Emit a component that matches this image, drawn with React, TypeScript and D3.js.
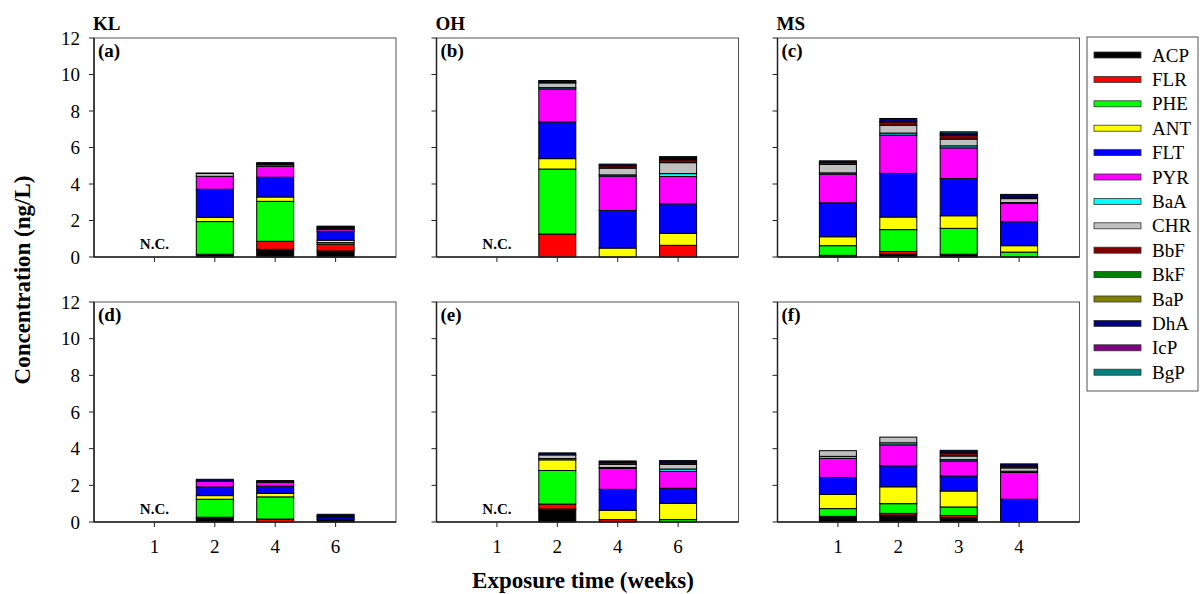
import React from 'react';
import * as d3 from 'd3';

const species = ['ACP', 'FLR', 'PHE', 'ANT', 'FLT', 'PYR', 'BaA', 'CHR', 'BbF', 'BkF', 'BaP', 'DhA', 'IcP', 'BgP'];
const speciesColors = ['#000000', '#ff0000', '#00ff00', '#ffff00', '#0000ff', '#ff00ff', '#00ffff', '#c0c0c0', '#800000', '#008000', '#808000', '#000080', '#800080', '#008080'];

const weeksKO = ['1', '2', '4', '6'];
const weeksMS = ['1', '2', '3', '4'];
const yTicks = [0, 2, 4, 6, 8, 10, 12];

// values per bar in species order: ACP, FLR, PHE, ANT, FLT, PYR, BaA, CHR, BbF, BkF, BaP, DhA, IcP, BgP
const panelA = [
  [0, 0, 0, 0, 0, 0, 0, 0, 0, 0, 0, 0, 0, 0],
  [0.15, 0, 1.79, 0.24, 1.53, 0.71, 0, 0.16, 0, 0, 0, 0.02, 0, 0],
  [0.42, 0.44, 2.19, 0.24, 1.08, 0.6, 0, 0.08, 0.06, 0, 0, 0.06, 0, 0],
  [0.33, 0.37, 0.09, 0.13, 0.47, 0.11, 0, 0.04, 0.05, 0, 0, 0.08, 0, 0.02],
];
const panelB = [
  [0, 0, 0, 0, 0, 0, 0, 0, 0, 0, 0, 0, 0, 0],
  [0, 1.26, 3.56, 0.57, 2.01, 1.81, 0.07, 0.26, 0.05, 0, 0, 0.08, 0, 0],
  [0, 0, 0, 0.49, 2.06, 1.88, 0.07, 0.37, 0.13, 0, 0, 0.09, 0, 0],
  [0, 0.64, 0, 0.66, 1.61, 1.5, 0.16, 0.6, 0.16, 0.06, 0, 0.05, 0, 0.06],
];
const panelC = [
  [0.09, 0, 0.53, 0.49, 1.86, 1.57, 0.07, 0.46, 0.11, 0, 0, 0.09, 0, 0],
  [0.15, 0.15, 1.2, 0.69, 2.39, 2.1, 0.11, 0.42, 0.2, 0, 0, 0.18, 0, 0],
  [0.15, 0, 1.42, 0.69, 2.04, 1.68, 0.11, 0.37, 0.22, 0, 0, 0.1, 0, 0.08],
  [0, 0, 0.27, 0.35, 1.31, 1.0, 0.05, 0.22, 0.07, 0, 0, 0.16, 0, 0],
];
const panelD = [
  [0, 0, 0, 0, 0, 0, 0, 0, 0, 0, 0, 0, 0, 0],
  [0.2, 0.06, 0.98, 0.2, 0.47, 0.31, 0, 0, 0, 0, 0, 0.11, 0, 0],
  [0, 0.16, 1.21, 0.2, 0.38, 0.22, 0, 0, 0, 0, 0, 0.09, 0, 0],
  [0.15, 0, 0, 0, 0.13, 0.04, 0, 0, 0, 0, 0, 0.1, 0, 0],
];
const panelE = [
  [0, 0, 0, 0, 0, 0, 0, 0, 0, 0, 0, 0, 0, 0],
  [0.71, 0.27, 1.83, 0.58, 0, 0, 0.07, 0.2, 0, 0, 0, 0.11, 0, 0],
  [0, 0.13, 0, 0.51, 1.14, 1.14, 0.05, 0.18, 0.1, 0, 0, 0.08, 0, 0],
  [0, 0, 0.13, 0.89, 0.82, 0.92, 0.13, 0.25, 0.09, 0, 0, 0.12, 0, 0],
];
const panelF = [
  [0.24, 0.07, 0.42, 0.77, 0.93, 1.04, 0.11, 0.31, 0, 0, 0, 0, 0, 0],
  [0.38, 0.09, 0.53, 0.92, 1.14, 1.15, 0.11, 0.31, 0, 0, 0, 0, 0, 0],
  [0.24, 0.11, 0.47, 0.87, 0.82, 0.82, 0.07, 0.2, 0.18, 0, 0, 0.13, 0, 0],
  [0, 0, 0, 0, 1.24, 1.46, 0.07, 0.18, 0.1, 0, 0, 0.12, 0, 0],
];

const siteTitles = ['KL', 'OH', 'MS'];
const panelLetters = ['(a)', '(b)', '(c)', '(d)', '(e)', '(f)'];

const FONT = '"Liberation Serif", "Times New Roman", serif';

type PanelProps = {
  data: number[][];
  cats: string[];
  left: number;
  top: number;
  bottom: number;
  letter: string;
  showYLabels: boolean;
  showXLabels: boolean;
  nc: boolean;
  title?: string;
};

function Panel({ data, cats, left, top, bottom, letter, showYLabels, showXLabels, nc, title }: PanelProps) {
  const width = 302;
  const x = d3.scaleLinear().domain([0, 5]).range([left, left + width]);
  const y = d3.scaleLinear().domain([0, 12]).range([bottom, top]);
  const rows = data.map((vals) => {
    const o: Record<string, number> = {};
    species.forEach((s, i) => (o[s] = vals[i]));
    return o;
  });
  const stacked = d3.stack<Record<string, number>>().keys(species)(rows);
  const barW = 37;
  return (
    <g>
      {title && (
        <text x={left - 1} y={top - 8} fontFamily={FONT} fontWeight="bold" fontSize={19}>
          {title}
        </text>
      )}
      <rect x={left} y={top} width={width} height={bottom - top} fill="none" stroke="#555" strokeWidth={1} />
      {stacked.map((layer, si) => (
        <g key={si}>
          {layer.map((d, ci) => {
            const h = y(d[0]) - y(d[1]);
            if (h <= 0.01) return null;
            return (
              <rect
                key={ci}
                x={x(ci + 1) - barW / 2}
                y={y(d[1])}
                width={barW}
                height={h}
                fill={speciesColors[si]}
                stroke="#000"
                strokeWidth={1}
              />
            );
          })}
        </g>
      ))}
      <line x1={left} x2={left} y1={top} y2={bottom} stroke="#222" strokeWidth={1.5} />
      <line x1={left} x2={left + width} y1={bottom} y2={bottom} stroke="#222" strokeWidth={1.5} />
      {yTicks.map((t) => (
        <g key={t}>
          <line x1={left - 5} x2={left} y1={y(t)} y2={y(t)} stroke="#222" strokeWidth={1} />
          {showYLabels && (
            <text x={left - 14} y={y(t)} dy="0.35em" textAnchor="end" fontFamily={FONT} fontSize={19}>
              {t}
            </text>
          )}
        </g>
      ))}
      {cats.map((c, i) => (
        <g key={c}>
          <line x1={x(i + 1)} x2={x(i + 1)} y1={bottom} y2={bottom + 5} stroke="#222" strokeWidth={1} />
          {showXLabels && (
            <text x={x(i + 1)} y={bottom + 31} textAnchor="middle" fontFamily={FONT} fontSize={19}>
              {c}
            </text>
          )}
        </g>
      ))}
      <text x={left + 4} y={top + 19} fontFamily={FONT} fontWeight="bold" fontSize={19}>
        {letter}
      </text>
      {nc && (
        <text x={x(1)} y={bottom - 8} textAnchor="middle" fontFamily={FONT} fontWeight="bold" fontSize={15}>
          N.C.
        </text>
      )}
    </g>
  );
}

export default function App() {
  const lefts = [94, 436.5, 777.5];
  const rowsY = [
    { top: 38, bottom: 257 },
    { top: 302, bottom: 522 },
  ];
  const panelData = [panelA, panelB, panelC, panelD, panelE, panelF];
  const legendTop = 37;
  const legendStep = 24.4;
  return (
    <svg width={1203} height={594} style={{ display: 'block', position: 'absolute', left: 0, top: 0 }}>
      <rect width={1203} height={594} fill="#fff" />
      {panelData.map((d, i) => {
        const col = i % 3;
        const row = Math.floor(i / 3);
        return (
          <Panel
            key={i}
            data={d}
            cats={col === 2 ? weeksMS : weeksKO}
            left={lefts[col]}
            top={rowsY[row].top}
            bottom={rowsY[row].bottom}
            letter={panelLetters[i]}
            showYLabels={col === 0}
            showXLabels={row === 1}
            nc={col !== 2}
            title={row === 0 ? siteTitles[col] : undefined}
          />
        );
      })}
      <text
        transform="translate(30,280) rotate(-90)"
        textAnchor="middle"
        fontFamily={FONT}
        fontWeight="bold"
        fontSize={23}
      >
        Concentration (ng/L)
      </text>
      <text x={583} y={588} textAnchor="middle" fontFamily={FONT} fontWeight="bold" fontSize={23}>
        Exposure time (weeks)
      </text>
      <rect x={1087} y={legendTop} width={111} height={354} fill="#fff" stroke="#555" strokeWidth={1} />
      {species.map((s, i) => {
        const cy = legendTop + 18 + i * legendStep;
        return (
          <g key={s}>
            <rect x={1094} y={cy - 3} width={47} height={6} fill={speciesColors[i]} stroke="#333" strokeWidth={0.8} />
            <text x={1152} y={cy} dy="0.35em" fontFamily={FONT} fontSize={19}>
              {s}
            </text>
          </g>
        );
      })}
    </svg>
  );
}
